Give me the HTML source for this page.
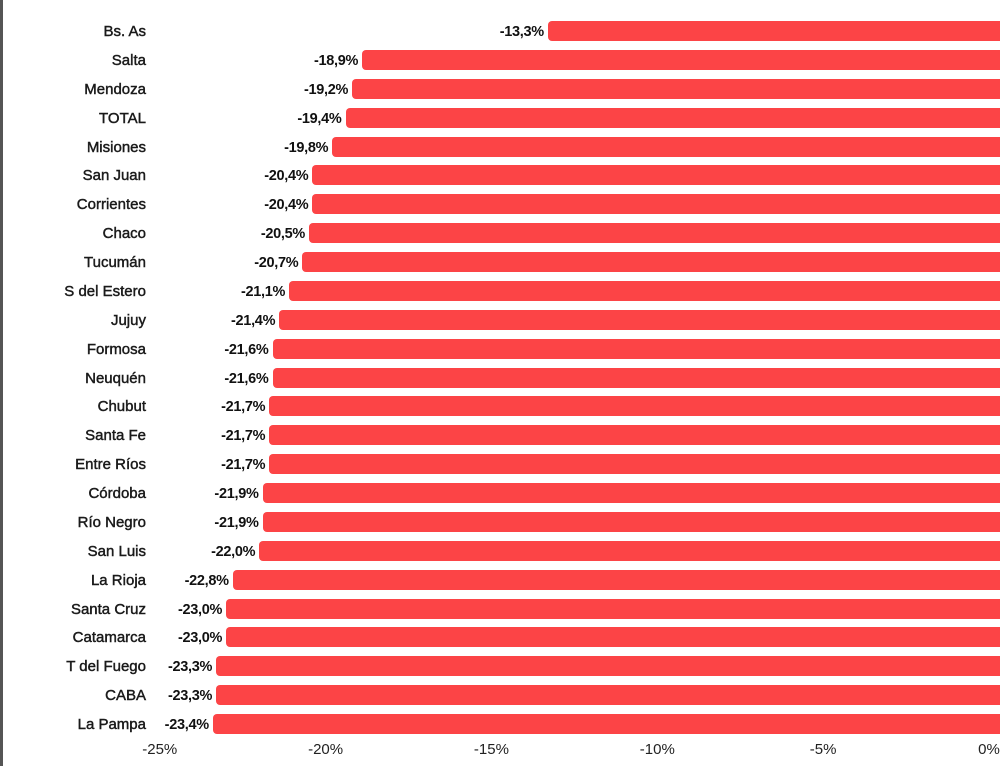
<!DOCTYPE html>
<html><head><meta charset="utf-8"><style>
body{margin:0;background:#fff;width:1000px;height:766px;overflow:hidden;position:relative;font-family:"Liberation Sans",sans-serif;}
.border{position:absolute;left:0;top:0;width:3px;height:766px;background:#555;}
.lab{position:absolute;right:854px;font-size:15px;color:#1a1a1a;white-space:nowrap;line-height:22px;font-weight:normal;-webkit-text-stroke:0.45px #1a1a1a;}
.val{position:absolute;font-size:14.5px;font-weight:bold;color:#111;white-space:nowrap;line-height:22px;letter-spacing:-0.3px;}
.bar{position:absolute;height:20px;background:#fc4446;border-radius:4px 0 0 4px;}
.tick{position:absolute;top:741px;font-size:15px;color:#222;transform:translateX(-50%);}
</style></head><body>
<div class="border"></div>
<div id="c"></div>
<script>
const d=[["Bs. As",13.3],["Salta",18.9],["Mendoza",19.2],["TOTAL",19.4],["Misiones",19.8],["San Juan",20.4],["Corrientes",20.4],["Chaco",20.5],["Tucumán",20.7],["S del Estero",21.1],["Jujuy",21.4],["Formosa",21.6],["Neuquén",21.6],["Chubut",21.7],["Santa Fe",21.7],["Entre Ríos",21.7],["Córdoba",21.9],["Río Negro",21.9],["San Luis",22.0],["La Rioja",22.8],["Santa Cruz",23.0],["Catamarca",23.0],["T del Fuego",23.3],["CABA",23.3],["La Pampa",23.4]];
const z=989,s=33.17;let h="";
d.forEach((r,i)=>{const cy=31+i*28.875,t=cy-10,x=z-r[1]*s;
h+=`<div class="lab" style="top:${t}px">${r[0]}</div>`;
h+=`<div class="bar" style="top:${t}px;left:${x}px;width:${1000-x}px"></div>`;
h+=`<div class="val" style="top:${t}px;right:${1000-x+4}px">-${r[1].toFixed(1).replace('.',',')}%</div>`;});
[25,20,15,10,5,0].forEach(v=>{h+=`<div class="tick" style="left:${z-v*s}px">${v?'-'+v:0}%</div>`});
document.getElementById('c').innerHTML=h;
</script>
</body></html>
